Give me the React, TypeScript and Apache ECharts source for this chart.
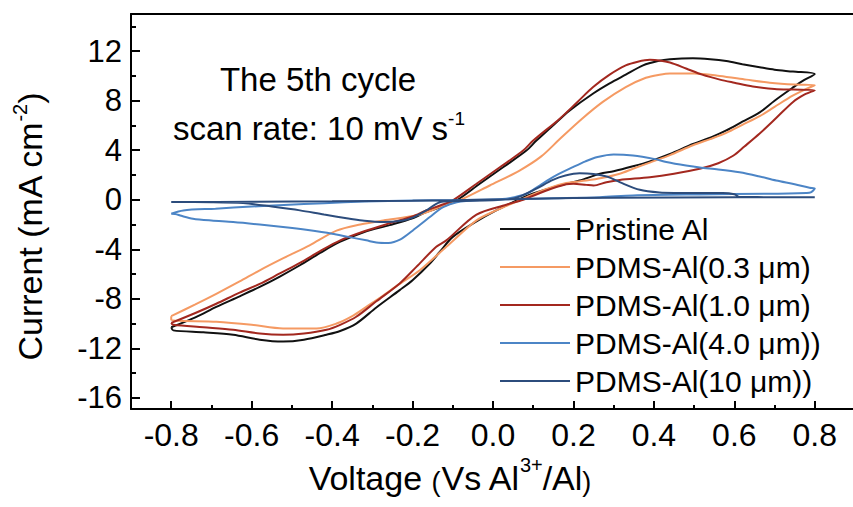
import React, { useEffect, useRef } from 'react';
import * as echarts from 'echarts';

const FONT = "'Liberation Sans', Arial, Helvetica, sans-serif";

const xMajorTicks = [-0.8, -0.6, -0.4, -0.2, 0.0, 0.2, 0.4, 0.6, 0.8];
const xMinorTicks = [-0.7, -0.5, -0.3, -0.1, 0.1, 0.3, 0.5, 0.7];
const yMajorTicks = [-16, -12, -8, -4, 0, 4, 8, 12];
const yMinorTicks = [-14, -10, -6, -2, 2, 6, 10, 14];

const seriesNames = [
  'Pristine Al',
  'PDMS-Al(0.3 μm)',
  'PDMS-Al(1.0 μm)',
  'PDMS-Al(4.0 μm))',
  'PDMS-Al(10 μm))',
];
const seriesColors = ['#111111', '#F59A63', '#A3281F', '#4C85C6', '#2C4C7C'];

// [voltage (V), current (mA cm^-2)] along each closed CV loop
const pristineAl: [number, number][] = [
  [-0.8, -10.3], [-0.74, -9.5], [-0.688, -8.65], [-0.63, -7.8], [-0.58, -7.04], [-0.53, -6.2],
  [-0.48, -5.29], [-0.43, -4.3], [-0.381, -3.41], [-0.32, -2.6], [-0.257, -2.05], [-0.2, -1.5],
  [-0.166, -1.0], [-0.13, -0.6], [-0.09, -0.05], [-0.033, 1.29], [0.025, 2.62], [0.083, 3.97],
  [0.108, 4.78], [0.166, 6.5], [0.19, 7.2], [0.25, 8.6], [0.29, 9.4], [0.33, 10.1], [0.373, 10.85],
  [0.41, 11.2], [0.44, 11.35], [0.497, 11.43], [0.54, 11.35], [0.58, 11.2], [0.62, 10.95],
  [0.663, 10.7], [0.7, 10.5], [0.746, 10.35], [0.8, 10.15],
  [0.77, 9.6], [0.746, 9.07], [0.7, 8.0], [0.663, 7.05], [0.62, 6.3], [0.58, 5.6], [0.546, 5.1],
  [0.497, 4.5], [0.44, 3.7], [0.39, 3.1], [0.348, 2.7], [0.3, 2.3], [0.266, 2.1], [0.215, 1.55],
  [0.149, 1.0], [0.1, 0.5], [0.066, 0.05], [0.008, -0.86], [-0.041, -1.75], [-0.1, -3.0],
  [-0.132, -4.2], [-0.157, -5.15], [-0.2, -6.5], [-0.232, -7.3], [-0.29, -8.7], [-0.34, -10.0],
  [-0.38, -10.6], [-0.414, -10.9], [-0.47, -11.3], [-0.522, -11.45], [-0.58, -11.3],
  [-0.646, -10.9], [-0.72, -10.7], [-0.795, -10.55], [-0.8, -10.3],
];

const pdms03: [number, number][] = [
  [-0.8, -9.4], [-0.74, -8.45], [-0.688, -7.6], [-0.63, -6.6], [-0.58, -5.7], [-0.52, -4.7],
  [-0.456, -3.68], [-0.389, -2.5], [-0.33, -2.0], [-0.273, -1.67], [-0.19, -1.26], [-0.132, -0.6],
  [-0.083, -0.05], [-0.008, 1.15], [0.066, 2.36], [0.12, 3.5], [0.166, 4.9], [0.22, 6.5],
  [0.273, 7.9], [0.33, 9.1], [0.38, 9.85], [0.414, 10.1], [0.44, 10.2], [0.5, 10.2], [0.564, 10.0],
  [0.63, 9.7], [0.688, 9.45], [0.75, 9.3], [0.8, 9.25],
  [0.775, 8.9], [0.745, 8.4], [0.7, 7.5], [0.663, 6.75], [0.62, 6.05], [0.58, 5.4], [0.54, 4.9],
  [0.497, 4.4], [0.44, 3.6], [0.39, 3.0], [0.348, 2.5], [0.315, 2.1], [0.27, 1.75], [0.232, 1.55],
  [0.182, 1.35], [0.133, 0.88], [0.066, -0.05], [0.008, -0.86], [-0.041, -1.67], [-0.116, -3.8],
  [-0.182, -5.7], [-0.232, -6.8], [-0.28, -7.9], [-0.315, -8.65], [-0.35, -9.4], [-0.389, -10.0],
  [-0.439, -10.4], [-0.522, -10.4], [-0.6, -10.1], [-0.688, -9.85], [-0.8, -9.7], [-0.8, -9.4],
];

const pdms10: [number, number][] = [
  [-0.8, -9.95], [-0.74, -9.15], [-0.688, -8.4], [-0.63, -7.5], [-0.58, -6.8], [-0.53, -5.95],
  [-0.48, -5.1], [-0.43, -4.15], [-0.381, -3.3], [-0.32, -2.55], [-0.257, -1.9], [-0.2, -1.35],
  [-0.166, -0.86], [-0.13, -0.45], [-0.1, -0.05], [-0.041, 1.29], [0.017, 2.62], [0.075, 3.97],
  [0.1, 4.78], [0.166, 6.55], [0.21, 7.9], [0.249, 9.1], [0.29, 10.1], [0.33, 10.85], [0.36, 11.15],
  [0.39, 11.3], [0.414, 11.25], [0.44, 11.08], [0.48, 10.6], [0.52, 10.1], [0.564, 9.7], [0.6, 9.45],
  [0.646, 9.15], [0.7, 8.95], [0.746, 8.9], [0.8, 8.85],
  [0.775, 8.5], [0.746, 7.9], [0.704, 6.6], [0.663, 5.35], [0.625, 4.3], [0.597, 3.55], [0.56, 2.95],
  [0.514, 2.5], [0.45, 2.1], [0.39, 1.82], [0.315, 1.6], [0.282, 1.42], [0.25, 1.15], [0.232, 1.2],
  [0.2, 1.3], [0.182, 1.25], [0.133, 0.75], [0.075, 0.0], [0.033, -0.4], [-0.041, -1.2],
  [-0.116, -3.28], [-0.141, -3.8], [-0.19, -5.4], [-0.232, -6.76], [-0.29, -8.2], [-0.34, -9.45],
  [-0.38, -10.1], [-0.414, -10.5], [-0.47, -10.8], [-0.522, -10.9], [-0.58, -10.8], [-0.646, -10.5],
  [-0.72, -10.3], [-0.795, -10.1], [-0.8, -9.95],
];

const pdms40: [number, number][] = [
  [-0.8, -1.13], [-0.77, -0.86], [-0.69, -0.72], [-0.6, -0.55], [-0.52, -0.42], [-0.42, -0.28],
  [-0.32, -0.15], [-0.2, -0.06], [-0.1, -0.02], [0.0, 0.02], [0.04, 0.12], [0.083, 0.48],
  [0.116, 1.15], [0.15, 1.85], [0.2, 2.65], [0.23, 3.1], [0.26, 3.45], [0.3, 3.65], [0.348, 3.57],
  [0.4, 3.3], [0.431, 3.05], [0.48, 2.76], [0.514, 2.6], [0.56, 2.45], [0.613, 2.22], [0.66, 1.9],
  [0.704, 1.55], [0.75, 1.25], [0.787, 0.97], [0.8, 0.9],
  [0.79, 0.6], [0.779, 0.55], [0.68, 0.48], [0.514, 0.43], [0.348, 0.35], [0.266, 0.21], [0.15, 0.12],
  [0.05, 0.05], [-0.03, -0.02], [-0.09, -0.2], [-0.124, -0.6], [-0.157, -1.4], [-0.2, -2.5],
  [-0.23, -3.2], [-0.26, -3.49], [-0.29, -3.45], [-0.315, -3.28], [-0.36, -3.0], [-0.4, -2.74],
  [-0.46, -2.45], [-0.522, -2.2], [-0.58, -2.0], [-0.646, -1.8], [-0.7, -1.68], [-0.746, -1.53],
  [-0.775, -1.3], [-0.79, -1.15], [-0.8, -1.13],
];

const pdms100: [number, number][] = [
  [-0.8, -0.19], [-0.6, -0.16], [-0.4, -0.13], [-0.2, -0.08], [-0.1, -0.04], [0.1, 0.08],
  [0.3, 0.17], [0.6, 0.2], [0.8, 0.21],
  [0.7, 0.21], [0.613, 0.22], [0.6, 0.45], [0.571, 0.55], [0.45, 0.55], [0.414, 0.58], [0.365, 0.8],
  [0.315, 1.42], [0.285, 1.85], [0.25, 2.08], [0.215, 2.14], [0.18, 1.95], [0.149, 1.6],
  [0.108, 0.9], [0.066, 0.25], [0.04, 0.05], [0.0, -0.05], [-0.1, -0.12], [-0.132, -0.2],
  [-0.166, -0.86], [-0.2, -1.45], [-0.224, -1.67], [-0.273, -1.8], [-0.32, -1.7], [-0.356, -1.53],
  [-0.42, -1.2], [-0.48, -0.86], [-0.55, -0.55], [-0.621, -0.27], [-0.7, -0.2], [-0.8, -0.19],
];

const seriesData = [pristineAl, pdms03, pdms10, pdms40, pdms100];

export default function App() {
  const ref = useRef<HTMLDivElement>(null);
  useEffect(() => {
    const chart = echarts.init(ref.current!, null, { renderer: 'svg' });
    const axisLineStyle = { color: '#000', width: 2 };
    const tickStyle = { color: '#000', width: 2 };
    const option: any = {
      animation: false,
      backgroundColor: '#fff',
      textStyle: { fontFamily: FONT },
      grid: { left: 131, right: -2, top: 14, bottom: 98, containLabel: false, outerBoundsMode: 'none' },
      xAxis: [
        {
          type: 'value', min: -0.9, max: 0.9, position: 'bottom',
          axisLine: { show: true, onZero: false, lineStyle: axisLineStyle },
          axisTick: { show: true, inside: true, length: 8, customValues: xMajorTicks, lineStyle: tickStyle },
          axisLabel: {
            show: true, customValues: xMajorTicks, margin: 10, fontSize: 32, color: '#000', fontFamily: FONT,
            formatter: (v: number) => v.toFixed(1),
          },
          splitLine: { show: false },
        },
        {
          type: 'value', min: -0.9, max: 0.9, position: 'bottom',
          axisLine: { show: false, onZero: false },
          axisTick: { show: true, inside: true, length: 4, customValues: xMinorTicks, lineStyle: tickStyle },
          axisLabel: { show: false },
          splitLine: { show: false },
        },
        {
          type: 'value', min: -0.9, max: 0.9, position: 'top',
          axisLine: { show: true, onZero: false, lineStyle: axisLineStyle },
          axisTick: { show: false }, axisLabel: { show: false }, splitLine: { show: false },
        },
      ],
      yAxis: [
        {
          type: 'value', min: -16.9, max: 15, position: 'left',
          axisLine: { show: true, onZero: false, lineStyle: axisLineStyle },
          axisTick: { show: true, inside: true, length: 9, customValues: yMajorTicks, lineStyle: tickStyle },
          axisLabel: { show: true, customValues: yMajorTicks, margin: 9, fontSize: 31, color: '#000', fontFamily: FONT },
          splitLine: { show: false },
        },
        {
          type: 'value', min: -16.9, max: 15, position: 'left',
          axisLine: { show: false, onZero: false },
          axisTick: { show: true, inside: true, length: 5, customValues: yMinorTicks, lineStyle: tickStyle },
          axisLabel: { show: false },
          splitLine: { show: false },
        },
      ],
      legend: {
        orient: 'vertical', left: 500, top: 214, padding: 0,
        itemWidth: 70, itemHeight: 2, itemGap: 8, icon: 'rect',
        data: seriesNames,
        textStyle: { fontSize: 30, lineHeight: 30, color: '#000', fontFamily: FONT },
      },
      series: seriesNames.map((name, k) => ({
        name, type: 'line', data: seriesData[k], xAxisIndex: 0, yAxisIndex: 0,
        showSymbol: false, symbol: 'none', smooth: 0.3, color: seriesColors[k],
        lineStyle: { width: 2, color: seriesColors[k] },
      })),
      graphic: [
        {
          type: 'text', x: 318, y: 79,
          style: { text: 'The 5th cycle', fontSize: 33, fontFamily: FONT, fill: '#000', align: 'center', verticalAlign: 'middle' },
        },
        {
          type: 'text', x: 319, y: 128,
          style: {
            text: '{n|scan rate: 10 mV s}{s|-1}', align: 'center', verticalAlign: 'middle', fill: '#000',
            rich: {
              n: { fontSize: 33, lineHeight: 38, fontFamily: FONT, fill: '#000' },
              s: { fontSize: 19, lineHeight: 22, fontFamily: FONT, fill: '#000', verticalAlign: 'top' },
            },
          },
        },
        {
          type: 'text', x: 450, y: 475,
          style: {
            text: '{n|Voltage }{p|(}{n|Vs Al}{s|3+}{n|/Al}{p|)}', align: 'center', verticalAlign: 'middle', fill: '#000',
            rich: {
              n: { fontSize: 34, lineHeight: 40, fontFamily: FONT, fill: '#000', verticalAlign: 'bottom' },
              p: { fontSize: 27, lineHeight: 35, fontFamily: FONT, fill: '#000', verticalAlign: 'bottom' },
              s: { fontSize: 20, lineHeight: 22, fontFamily: FONT, fill: '#000', verticalAlign: 'top' },
            },
          },
        },
        {
          type: 'text', x: 30, y: 227, rotation: Math.PI / 2,
          style: {
            text: '{n|Current (mA cm}{s|-2}{n|)}', align: 'center', verticalAlign: 'middle', fill: '#000',
            rich: {
              n: { fontSize: 34, lineHeight: 40, fontFamily: FONT, fill: '#000' },
              s: { fontSize: 20, lineHeight: 22, fontFamily: FONT, fill: '#000', verticalAlign: 'top' },
            },
          },
        },
      ],
    };
    chart.setOption(option);
    return () => chart.dispose();
  }, []);
  return <div ref={ref} style={{ position: 'fixed', left: 0, top: 0, width: 853, height: 507 }} />;
}
